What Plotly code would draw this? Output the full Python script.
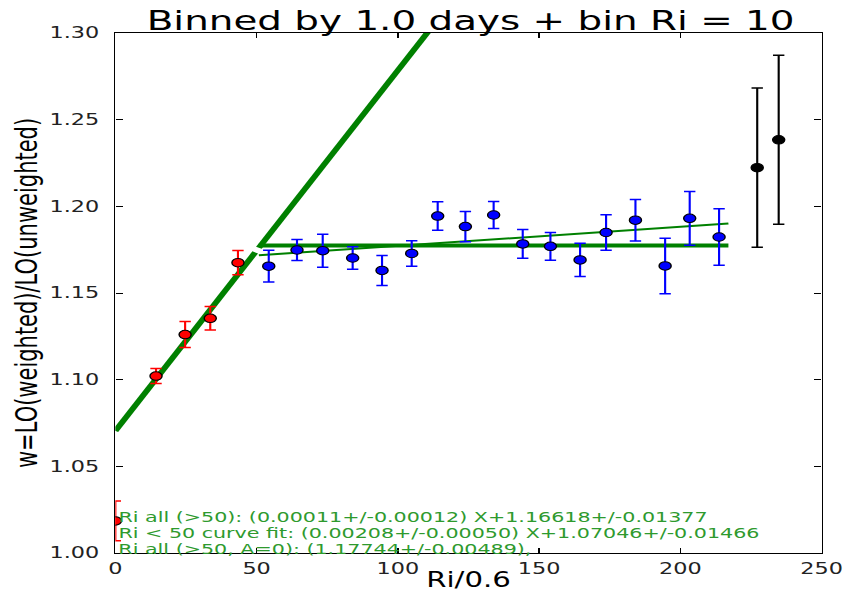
import plotly.graph_objects as go

# Binned points below Ri/0.6 = 50 (red)
ri_low = [0.0, 14.4, 24.7, 33.6, 43.4]
w_low = [1.0185, 1.1021, 1.1260, 1.1354, 1.1675]
err_low = [0.0115, 0.0043, 0.0075, 0.0068, 0.0070]

# Binned points between 50 and ~220 (blue)
ri_mid = [54.3, 64.3, 73.4, 84.0, 94.4, 104.9, 114.1, 123.9, 133.9,
          144.2, 154.0, 164.5, 173.7, 184.1, 194.6, 203.3, 213.7]
w_mid = [1.1655, 1.1748, 1.1744, 1.1702, 1.1630, 1.1728, 1.1944, 1.1883, 1.1950,
         1.1783, 1.1769, 1.1691, 1.1849, 1.1920, 1.1656, 1.1931, 1.1823]
err_mid = [0.0091, 0.0060, 0.0095, 0.0065, 0.0087, 0.0074, 0.0082, 0.0087, 0.0078,
           0.0083, 0.0080, 0.0096, 0.0102, 0.0120, 0.0160, 0.0155, 0.0163]

# Last bins (black)
ri_high = [227.2, 234.8]
w_high = [1.2223, 1.2384]
err_high = [0.0459, 0.0487]

# Fit results
slope_low, icpt_low = 0.00208, 1.07046      # Ri < 50 linear fit
slope_all, icpt_all = 0.00011, 1.16618      # Ri > 50 linear fit
const_all = 1.17744                          # Ri > 50 constant fit

# x spans over which the fits are drawn
low_fit_spans = [[0.0, 49.5], [50.8, 115.0]]
high_fit_span = [50.8, 217.0]

fit_labels = [
    "Ri all (>50): (0.00011+/-0.00012) X+1.16618+/-0.01377",
    "Ri < 50 curve fit: (0.00208+/-0.00050) X+1.07046+/-0.01466",
    "Ri all (>50, A=0): (1.17744+/-0.00489),",
]

title_text = "Binned by 1.0 days + bin Ri = 10"
x_title = "Ri/0.6"
y_title = "w=LO(weighted)/LO(unweighted)"

FONT = "DejaVu Sans"
GREEN = "#008000"

fig = go.Figure()

# Fit lines
for span in low_fit_spans:
    fig.add_trace(go.Scatter(
        x=span, y=[slope_low * v + icpt_low for v in span],
        mode="lines", line=dict(color=GREEN, width=4.5), showlegend=False))

fig.add_trace(go.Scatter(
    x=high_fit_span, y=[const_all for _ in high_fit_span],
    mode="lines", line=dict(color=GREEN, width=4), showlegend=False))

fig.add_trace(go.Scatter(
    x=high_fit_span, y=[slope_all * v + icpt_all for v in high_fit_span],
    mode="lines", line=dict(color=GREEN, width=2), showlegend=False))

# Data points with error bars
for xs, ys, es, col in [(ri_low, w_low, err_low, "#ff0000"),
                        (ri_mid, w_mid, err_mid, "#0000ff"),
                        (ri_high, w_high, err_high, "#000000")]:
    fig.add_trace(go.Scatter(
        x=xs, y=ys, mode="markers",
        marker=dict(color=col, size=8.5, line=dict(color="#000000", width=1)),
        error_y=dict(type="data", array=es, visible=True,
                     color=col, thickness=1.5, width=4),
        showlegend=False))

# Fit result labels
label_y = [0.0698, 0.0378, 0.0068]
for txt, yy in zip(fit_labels, label_y):
    fig.add_annotation(
        text=txt, xref="paper", yref="paper", x=0.003, y=yy,
        xanchor="left", yanchor="middle", showarrow=False, borderpad=0,
        font=dict(family=FONT, size=14.5, color="#2e9a2e"))

axis_common = dict(
    showline=True, linecolor="#000000", linewidth=1.3, mirror="allticks",
    ticks="inside", ticklen=5, tickwidth=1, tickcolor="#000000",
    showgrid=False, zeroline=False, automargin=False,
    tickfont=dict(family=FONT, size=15.7, color="#222222"),
)

fig.update_layout(
    width=592, height=592,
    margin=dict(l=81, r=15, t=33, b=39),
    paper_bgcolor="white", plot_bgcolor="white",
    title=dict(text=title_text, x=0.503, xref="paper", xanchor="center",
               y=1 - 20.5 / 592, yref="container", yanchor="middle",
               font=dict(family=FONT, size=27.3, color="#000000")),
    xaxis=dict(range=[0, 250], tick0=0, dtick=50,
               title=dict(text=x_title, standoff=7,
                          font=dict(family=FONT, size=20.5, color="#000000")),
               ticklabelstandoff=1, **axis_common),
    yaxis=dict(range=[1.0, 1.3], tick0=1.0, dtick=0.05, tickformat=".2f",
               title=dict(text=y_title, standoff=2,
                          font=dict(family=FONT, size=21, color="#000000")),
               ticklabelstandoff=7, **axis_common),
)

# Widen the whole figure horizontally to the 843px page width
stretch_js = """
var gd = document.getElementById('{plot_id}');
document.body.style.margin = '0';
document.body.style.overflow = 'hidden';
gd.style.transformOrigin = '0 0';
gd.style.transform = 'scaleX(' + (843 / 592) + ')';
"""

fig.write_html("out.html", post_script=stretch_js)
